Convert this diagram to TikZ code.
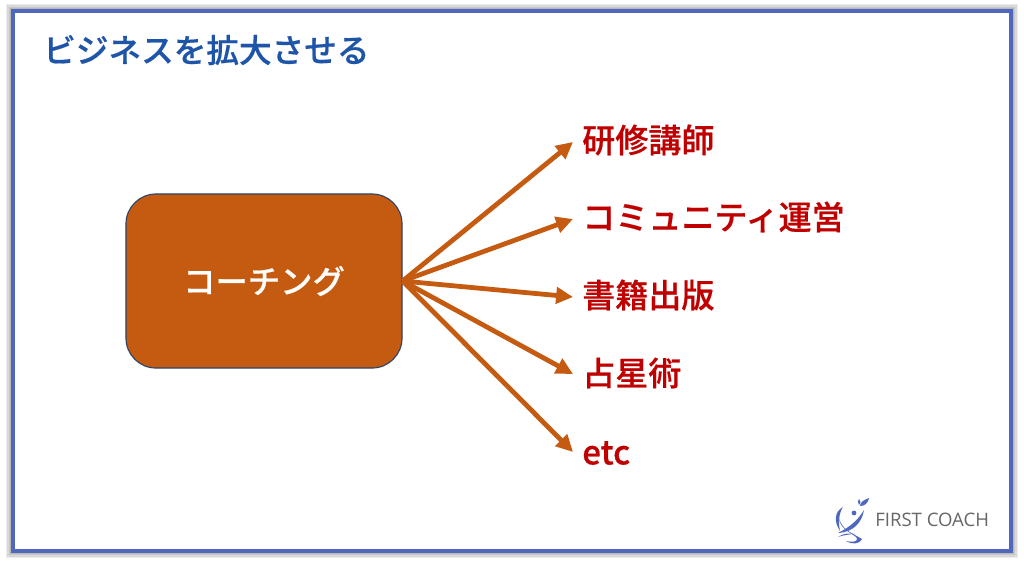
\documentclass[tikz,border=0pt]{standalone}
\usepackage{fontspec}
\setmainfont{Noto Sans CJK JP}[BoldFont={Noto Sans CJK JP Medium},BoldFeatures={FakeBold=0.5}]
\newfontfamily\logofont{Open Sans}
\usetikzlibrary{arrows.meta}
\definecolor{framecol}{HTML}{4F67BD}
\definecolor{titlecol}{HTML}{1F55A8}
\definecolor{brown}{HTML}{C55A11}
\definecolor{labelcol}{HTML}{C00000}
\definecolor{boxline}{HTML}{2F4468}
\tikzset{
  goal/.style={anchor=west,inner sep=0pt,text=labelcol,font=\fontsize{23.5}{26}\selectfont\bfseries},
  link/.style={draw=brown,line width=3.4pt,-{Triangle[length=12pt,width=11.5pt]}},
}
\begin{document}
\begin{tikzpicture}[x=0.025cm,y=-0.025cm]
        \useasboundingbox (0,0) rectangle (1024,562);
        % soft shadow round the frame
        \foreach \w in {10,8,6,4}
        \draw[black,opacity=0.08,line width=\w pt] (13,11) rectangle (1011,551);
        % frame
        \draw[framecol,fill=white,line width=2.3pt] (13,11) rectangle (1011,551);
        \node[anchor=west,inner sep=0pt,text=titlecol,font=\fontsize{23.2}{26}\selectfont\bfseries] (title) at (43,50) {ビジネスを拡大させる};
        % main box
        \node[draw=boxline,fill=brown,line width=0.8pt,rounded corners=0.75cm,minimum width=6.9cm,minimum height=4.35cm,inner sep=0pt,text=white,font=\fontsize{23}{26}\selectfont\bfseries] (coach) at (264,281) {コーチング};
        % goals
        \node[goal] (kenshu) at (582,140) {研修講師};
        \node[goal] (community) at (582,217) {コミュニティ運営};
        \node[goal] (shoseki) at (582,295) {書籍出版};
        \node[goal] (sensei) at (582,373) {占星術};
        \node[goal] (etc) at (582,453) {etc};
        % arrows
        \foreach \n/\y in {kenshu/142,community/219,shoseki/297,sensei/374,etc/452}
        \draw[link] (coach.east) -- (573,\y);
        % logo
        \node[anchor=west,inner sep=0pt,text=black!60,font=\logofont\fontsize{13.2}{15}\selectfont] (logotext) at (875,520) {FIRST COACH};
        \fill[framecol] (843,507) .. controls (834,512) and (834,522) .. (840,531) .. controls (838,522) and (839,513) .. (843,507) -- cycle;
        \fill[framecol] (839,518) .. controls (842,530) and (852,533) .. (862,539) .. controls (860,544) and (852,545) .. (846,541) .. controls (856,543) and (859,540) .. (856,537) .. controls (848,531) and (840,528) .. (839,518) -- cycle;
        \fill[framecol] (838,533) .. controls (850,527) and (858,520) .. (864,510) .. controls (862,522) and (854,532) .. (838,533) -- cycle;
        \fill[framecol] (838,537) .. controls (844,533) and (850,533) .. (855,534) .. controls (850,534) and (844,535) .. (838,537) -- cycle;
        \fill[framecol] (854,513) circle (2.4);
        \fill[framecol] (860,506) .. controls (860,502) and (864,500) .. (869,498) .. controls (868,503) and (865,506) .. (860,506) -- cycle;
        \fill[framecol] (859,505) .. controls (857,503) and (858,500) .. (859,499) .. controls (861,501) and (861,503) .. (859,505) -- cycle;
    \end{tikzpicture}
\end{document}
